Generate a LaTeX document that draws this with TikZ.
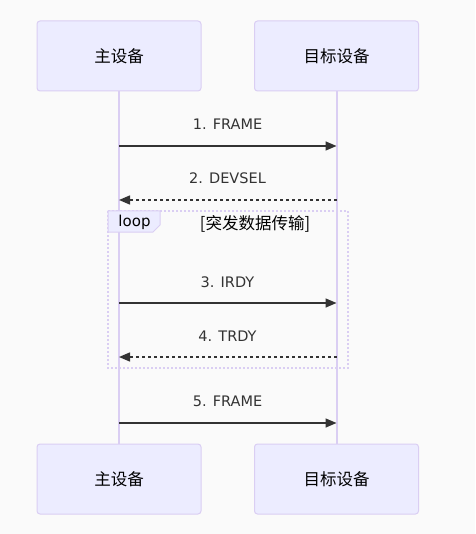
\documentclass[tikz,border=0pt]{standalone}
\usepackage{fontspec}
\setmainfont{Noto Sans CJK SC}
\newfontfamily\latinfont{DejaVu Sans}
\usetikzlibrary{arrows.meta}
\definecolor{bgcol}{HTML}{FAFAFA}
\definecolor{actfill}{HTML}{ECECFF}
\definecolor{actline}{HTML}{DACEF3}
\definecolor{msgcol}{HTML}{333333}

\begin{document}
\begin{tikzpicture}[x=1pt,y=-1pt,
    actor/.style={draw=actline, fill=actfill, line width=1pt, rounded corners=3pt,
        minimum width=164pt, minimum height=70pt, font=\fontsize{16.5}{19}\selectfont},
    life/.style={draw=actline, line width=2pt},
    msg/.style={draw=msgcol, line width=1.5pt, -{Triangle[length=11pt,width=9pt]}},
    reply/.style={msg, dash pattern=on 3pt off 3pt},
    lbl/.style={text=msgcol, font=\latinfont\fontsize{14.5}{17}\selectfont}]
    \fill[bgcol] (0,0) rectangle (475,534);
    \useasboundingbox (0,0) rectangle (475,534);

    \node[actor] (m1) at (119,56) {主设备};
    \node[actor] (t1) at (336.5,56) {目标设备};
    \node[actor] (m2) at (119,479) {主设备};
    \node[actor] (t2) at (336.5,479) {目标设备};

    \draw[life] (m1) -- (m2);
    \draw[life] (t1) -- (t2);

    % loop frame
    \draw[actline, line width=2pt, dash pattern=on 2pt off 2pt] (108,211) rectangle (348,368);
    \draw[actline, fill=actfill, line width=1pt] (108,211) -- (160,211) -- (160,225) -- (153,232) -- (108,232) -- cycle;
    \node[font=\latinfont\fontsize{15}{17}\selectfont] (lp) at (134.5,222) {loop};
    \node[font=\fontsize{16.5}{19}\selectfont] (cond) at (255,224) {[突发数据传输]};

    \coordinate (a1) at (119,146); \coordinate (b1) at (336.5,146);
    \coordinate (a2) at (119,200); \coordinate (b2) at (336.5,200);
    \coordinate (a3) at (119,303); \coordinate (b3) at (336.5,303);
    \coordinate (a4) at (119,357); \coordinate (b4) at (336.5,357);
    \coordinate (a5) at (119,423); \coordinate (b5) at (336.5,423);

    \draw[msg] (a1) -- (b1);
    \draw[reply] (b2) -- (a2);
    \draw[msg] (a3) -- (b3);
    \draw[reply] (b4) -- (a4);
    \draw[msg] (a5) -- (b5);

    \node[lbl] (l1) at (227.5,124) {1. FRAME};
    \node[lbl] (l2) at (227.5,178) {2. DEVSEL};
    \node[lbl] (l3) at (227.5,282) {3. IRDY};
    \node[lbl] (l4) at (227.5,336) {4. TRDY};
    \node[lbl] (l5) at (227.5,401) {5. FRAME};
\end{tikzpicture}
\end{document}
